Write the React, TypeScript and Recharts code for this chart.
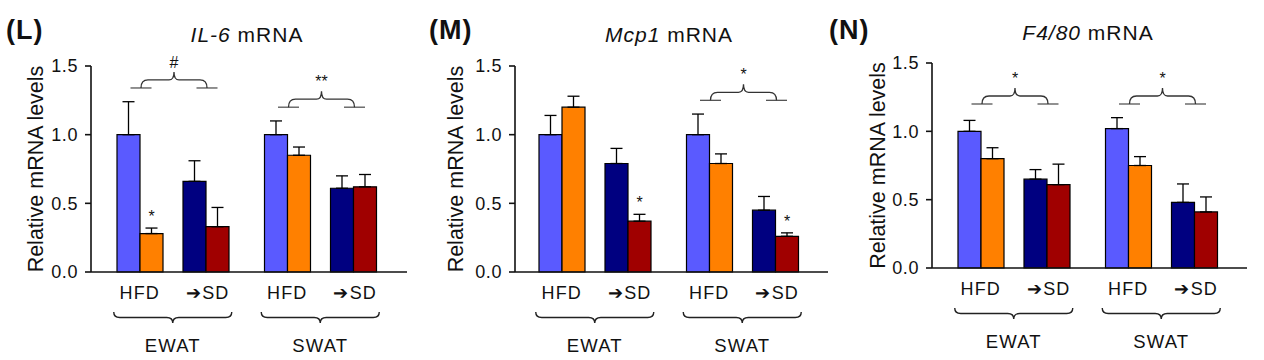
import React from "react";
import { Bar, BarChart, ErrorBar, LabelList, XAxis, YAxis } from "recharts";

const FONT = "Arial, 'Liberation Sans', Helvetica, sans-serif";
const INK = "#111";
const BAR = 23;
const SPACER = 20;

const groups = ["EWAT", "SWAT"];
const pairLabels = ["HFD", "➔SD"];
const yTicks = [0, 0.5, 1.0, 1.5];

// IL-6
const il6HfdCtrl = [1.0, 1.0];
const il6HfdCtrlErr = [0.24, 0.1];
const il6HfdTreat = [0.28, 0.85];
const il6HfdTreatErr = [0.04, 0.06];
const il6SdCtrl = [0.66, 0.61];
const il6SdCtrlErr = [0.15, 0.09];
const il6SdTreat = [0.33, 0.62];
const il6SdTreatErr = [0.14, 0.09];
const il6HfdTreatStar = ["*", ""];
const il6SdTreatStar = ["", ""];
const il6Bracket = ["#", "**"];
const il6BracketLevel = [1.34, 1.2];

// Mcp1
const mcp1HfdCtrl = [1.0, 1.0];
const mcp1HfdCtrlErr = [0.14, 0.15];
const mcp1HfdTreat = [1.2, 0.79];
const mcp1HfdTreatErr = [0.08, 0.07];
const mcp1SdCtrl = [0.79, 0.45];
const mcp1SdCtrlErr = [0.11, 0.1];
const mcp1SdTreat = [0.37, 0.26];
const mcp1SdTreatErr = [0.05, 0.025];
const mcp1HfdTreatStar = ["", ""];
const mcp1SdTreatStar = ["*", "*"];
const mcp1Bracket = ["", "*"];
const mcp1BracketLevel = [0, 1.25];

// F4/80
const f480HfdCtrl = [1.0, 1.02];
const f480HfdCtrlErr = [0.08, 0.08];
const f480HfdTreat = [0.8, 0.75];
const f480HfdTreatErr = [0.08, 0.065];
const f480SdCtrl = [0.65, 0.48];
const f480SdCtrlErr = [0.07, 0.135];
const f480SdTreat = [0.61, 0.41];
const f480SdTreatErr = [0.15, 0.11];
const f480HfdTreatStar = ["", ""];
const f480SdTreatStar = ["", ""];
const f480Bracket = ["*", "*"];
const f480BracketLevel = [1.2, 1.2];

const COLORS: Record<string, string> = {
  hfdCtrl: "#5a5aff",
  hfdTreat: "#ff8000",
  sdCtrl: "#000080",
  sdTreat: "#a00000",
};

const panels = [
  {
    id: "L", gene: "IL-6", left: 0, width: 420, top: 66, plotLeft: 91, plotRight: 407, pad: { left: 8, right: 13 },
    labelX: 6, labelY: 39, titleX: 247, titleY: 42, yLabelX: 35,
    hfdCtrl: il6HfdCtrl, hfdCtrlErr: il6HfdCtrlErr, hfdTreat: il6HfdTreat, hfdTreatErr: il6HfdTreatErr,
    sdCtrl: il6SdCtrl, sdCtrlErr: il6SdCtrlErr, sdTreat: il6SdTreat, sdTreatErr: il6SdTreatErr,
    hfdTreatStar: il6HfdTreatStar, sdTreatStar: il6SdTreatStar, bracket: il6Bracket, bracketLevel: il6BracketLevel,
  },
  {
    id: "M", gene: "Mcp1", left: 420, width: 420, top: 66, plotLeft: 95, plotRight: 408, pad: { left: 6, right: 12 },
    labelX: 429, labelY: 39, titleX: 669, titleY: 41.5, yLabelX: 35,
    hfdCtrl: mcp1HfdCtrl, hfdCtrlErr: mcp1HfdCtrlErr, hfdTreat: mcp1HfdTreat, hfdTreatErr: mcp1HfdTreatErr,
    sdCtrl: mcp1SdCtrl, sdCtrlErr: mcp1SdCtrlErr, sdTreat: mcp1SdTreat, sdTreatErr: mcp1SdTreatErr,
    hfdTreatStar: mcp1HfdTreatStar, sdTreatStar: mcp1SdTreatStar, bracket: mcp1Bracket, bracketLevel: mcp1BracketLevel,
  },
  {
    id: "N", gene: "F4/80", left: 840, width: 424, top: 63, plotLeft: 92, plotRight: 407, pad: { left: 8, right: 12 },
    labelX: 829, labelY: 38.5, titleX: 1088, titleY: 39.5, yLabelX: 37,
    hfdCtrl: f480HfdCtrl, hfdCtrlErr: f480HfdCtrlErr, hfdTreat: f480HfdTreat, hfdTreatErr: f480HfdTreatErr,
    sdCtrl: f480SdCtrl, sdCtrlErr: f480SdCtrlErr, sdTreat: f480SdTreat, sdTreatErr: f480SdTreatErr,
    hfdTreatStar: f480HfdTreatStar, sdTreatStar: f480SdTreatStar, bracket: f480Bracket, bracketLevel: f480BracketLevel,
  },
];

const Y_AXIS_W = 60;
const X_AXIS_H = 80;

function boxOf(p: any) {
  const vb = p.viewBox ?? p;
  const top = Math.min(vb.y, vb.y + vb.height);
  const h = Math.abs(vb.height);
  return { x: vb.x, top, h, width: vb.width };
}

function GroupTick(props: any) {
  const { x, y, payload } = props;
  const ty = y + 27;
  const by = y + 40;
  const bm = by + 5.5;
  const d = `M${x - 59},${by} Q${x - 59},${bm} ${x - 53},${bm} L${x - 6},${bm} Q${x},${bm} ${x},${by + 11} Q${x},${bm} ${x + 6},${bm} L${x + 53},${bm} Q${x + 59},${bm} ${x + 59},${by}`;
  const txt = { fontSize: 18, fill: INK, fontFamily: FONT, letterSpacing: 1.2 } as const;
  return (
    <g>
      <text x={x - 33} y={ty} textAnchor="middle" style={txt}>{pairLabels[0]}</text>
      <text x={x + 35} y={ty} textAnchor="middle" style={txt}>{pairLabels[1]}</text>
      <path d={d} fill="none" stroke="#222" strokeWidth={1.4} />
      <text x={x} y={y + 80} textAnchor="middle" style={{ ...txt, fontSize: 18.5 }}>{payload.value}</text>
    </g>
  );
}

function Bracket({ p, rows }: { p: any; rows: any[] }) {
  const row = rows[p.index];
  if (!row || !row.bracket) return null;
  const { x, top, h, width } = boxOf(p);
  const zeroY = top + h;
  const ppu = h / row.hfdCtrl;
  const ys = zeroY - row.bracketLevel * ppu;
  const lc = x + width + 1;
  const rc = x + 3 * width + SPACER + 1;
  const mid = (lc + rc) / 2;
  const t = ys - 8;
  const pk = ys - 16;
  const d = `M${lc},${ys} Q${lc},${t} ${lc + 7},${t} L${mid - 5},${t} Q${mid},${t} ${mid},${pk} Q${mid},${t} ${mid + 5},${t} L${rc - 7},${t} Q${rc},${t} ${rc},${ys}`;
  return (
    <g>
      <line x1={lc - 10.5} x2={lc + 10.5} y1={ys} y2={ys} stroke="#555" strokeWidth={1.3} />
      <line x1={rc - 10.5} x2={rc + 10.5} y1={ys} y2={ys} stroke="#555" strokeWidth={1.3} />
      <path d={d} fill="none" stroke="#333" strokeWidth={1.3} />
      <text x={mid} y={ys - 20} textAnchor="middle" style={{ fontSize: 16, fill: INK, fontFamily: FONT }}>
        {row.bracket}
      </text>
    </g>
  );
}

function Star({ p, rows, k }: { p: any; rows: any[]; k: string }) {
  const row = rows[p.index];
  if (!row || !row[k + "Star"]) return null;
  const { x, top, h, width } = boxOf(p);
  const ppu = h / row[k];
  const errTop = top - row[k + "Err"][1] * ppu;
  return (
    <text x={x + width / 2} y={errTop - 6} textAnchor="middle" style={{ fontSize: 16, fill: INK, fontFamily: FONT }}>
      {row[k + "Star"]}
    </text>
  );
}

function Panel({ cfg }: { cfg: any }) {
  const rows = groups.map((g, i) => ({
    group: g,
    hfdCtrl: cfg.hfdCtrl[i],
    hfdCtrlErr: [0, cfg.hfdCtrlErr[i]],
    hfdTreat: cfg.hfdTreat[i],
    hfdTreatErr: [0, cfg.hfdTreatErr[i]],
    sdCtrl: cfg.sdCtrl[i],
    sdCtrlErr: [0, cfg.sdCtrlErr[i]],
    sdTreat: cfg.sdTreat[i],
    sdTreatErr: [0, cfg.sdTreatErr[i]],
    hfdTreatStar: cfg.hfdTreatStar[i],
    sdTreatStar: cfg.sdTreatStar[i],
    bracket: cfg.bracket[i],
    bracketLevel: cfg.bracketLevel[i],
  }));
  const bottom = 360 - 272 - X_AXIS_H + (cfg.top === 63 ? 4 : 0);
  const margin = {
    top: cfg.top,
    left: cfg.plotLeft - Y_AXIS_W,
    right: cfg.width - cfg.plotRight,
    bottom,
  };
  const yLabelDx = cfg.yLabelX - (margin.left + Y_AXIS_W / 2);
  const series = ["hfdCtrl", "hfdTreat", "gap", "sdCtrl", "sdTreat"];

  return (
    <div style={{ position: "absolute", left: cfg.left, top: 0 }}>
      <BarChart width={cfg.width} height={360} data={rows} margin={margin} barGap={0}>
        <XAxis
          dataKey="group"
          padding={cfg.pad}
          height={X_AXIS_H}
          tickSize={0}
          tickMargin={0}
          tickLine={false}
          axisLine={{ stroke: INK, strokeWidth: 1.6 }}
          tick={<GroupTick />}
          interval={0}
        />
        <YAxis
          width={Y_AXIS_W}
          domain={[0, 1.5]}
          ticks={yTicks}
          tickFormatter={(v: number) => v.toFixed(1)}
          tickSize={6}
          tickMargin={7}
          axisLine={{ stroke: INK, strokeWidth: 1.6 }}
          tickLine={{ stroke: INK, strokeWidth: 1.6 }}
          tick={{ fontSize: 18, fill: INK, fontFamily: FONT, letterSpacing: 0.6 }}
          label={{
            value: "Relative mRNA levels",
            angle: -90,
            position: "center",
            dx: yLabelDx,
            style: { fontSize: 21.5, fill: INK, fontFamily: FONT, textAnchor: "middle" },
          }}
        />
        {series.map((k) =>
          k === "gap" ? (
            <Bar key={k} dataKey="gap" barSize={SPACER} fill="none" isAnimationActive={false} />
          ) : (
            <Bar
              key={k}
              dataKey={k}
              barSize={BAR}
              fill={COLORS[k]}
              stroke="#000"
              strokeWidth={1.2}
              isAnimationActive={false}
            >
              <ErrorBar dataKey={k + "Err"} direction="y" width={6} stroke="#000" strokeWidth={1.3} />
              {k === "hfdCtrl" && (
                <LabelList dataKey="bracket" content={(p: any) => <Bracket p={p} rows={rows} />} />
              )}
              {(k === "hfdTreat" || k === "sdTreat") && (
                <LabelList dataKey={k + "Star"} content={(p: any) => <Star p={p} rows={rows} k={k} />} />
              )}
            </Bar>
          )
        )}
      </BarChart>
    </div>
  );
}

export default function App() {
  return (
    <div style={{ position: "absolute", left: 0, top: 0, width: 1264, height: 360, background: "#fff", fontFamily: FONT }}>
      {panels.map((cfg) => (
        <Panel key={cfg.id} cfg={cfg} />
      ))}
      <svg width={1264} height={360} style={{ position: "absolute", left: 0, top: 0, pointerEvents: "none" }}>
        {panels.map((cfg) => (
          <g key={cfg.id}>
            <text x={cfg.labelX} y={cfg.labelY} style={{ fontSize: 27, fontWeight: 700, fill: INK, fontFamily: FONT, letterSpacing: 1 }}>
              ({cfg.id})
            </text>
            <text x={cfg.titleX} y={cfg.titleY} textAnchor="middle" style={{ fontSize: 21, fill: INK, fontFamily: FONT, letterSpacing: 1 }}>
              <tspan fontStyle="italic">{cfg.gene}</tspan>
              <tspan> mRNA</tspan>
            </text>
          </g>
        ))}
      </svg>
    </div>
  );
}
